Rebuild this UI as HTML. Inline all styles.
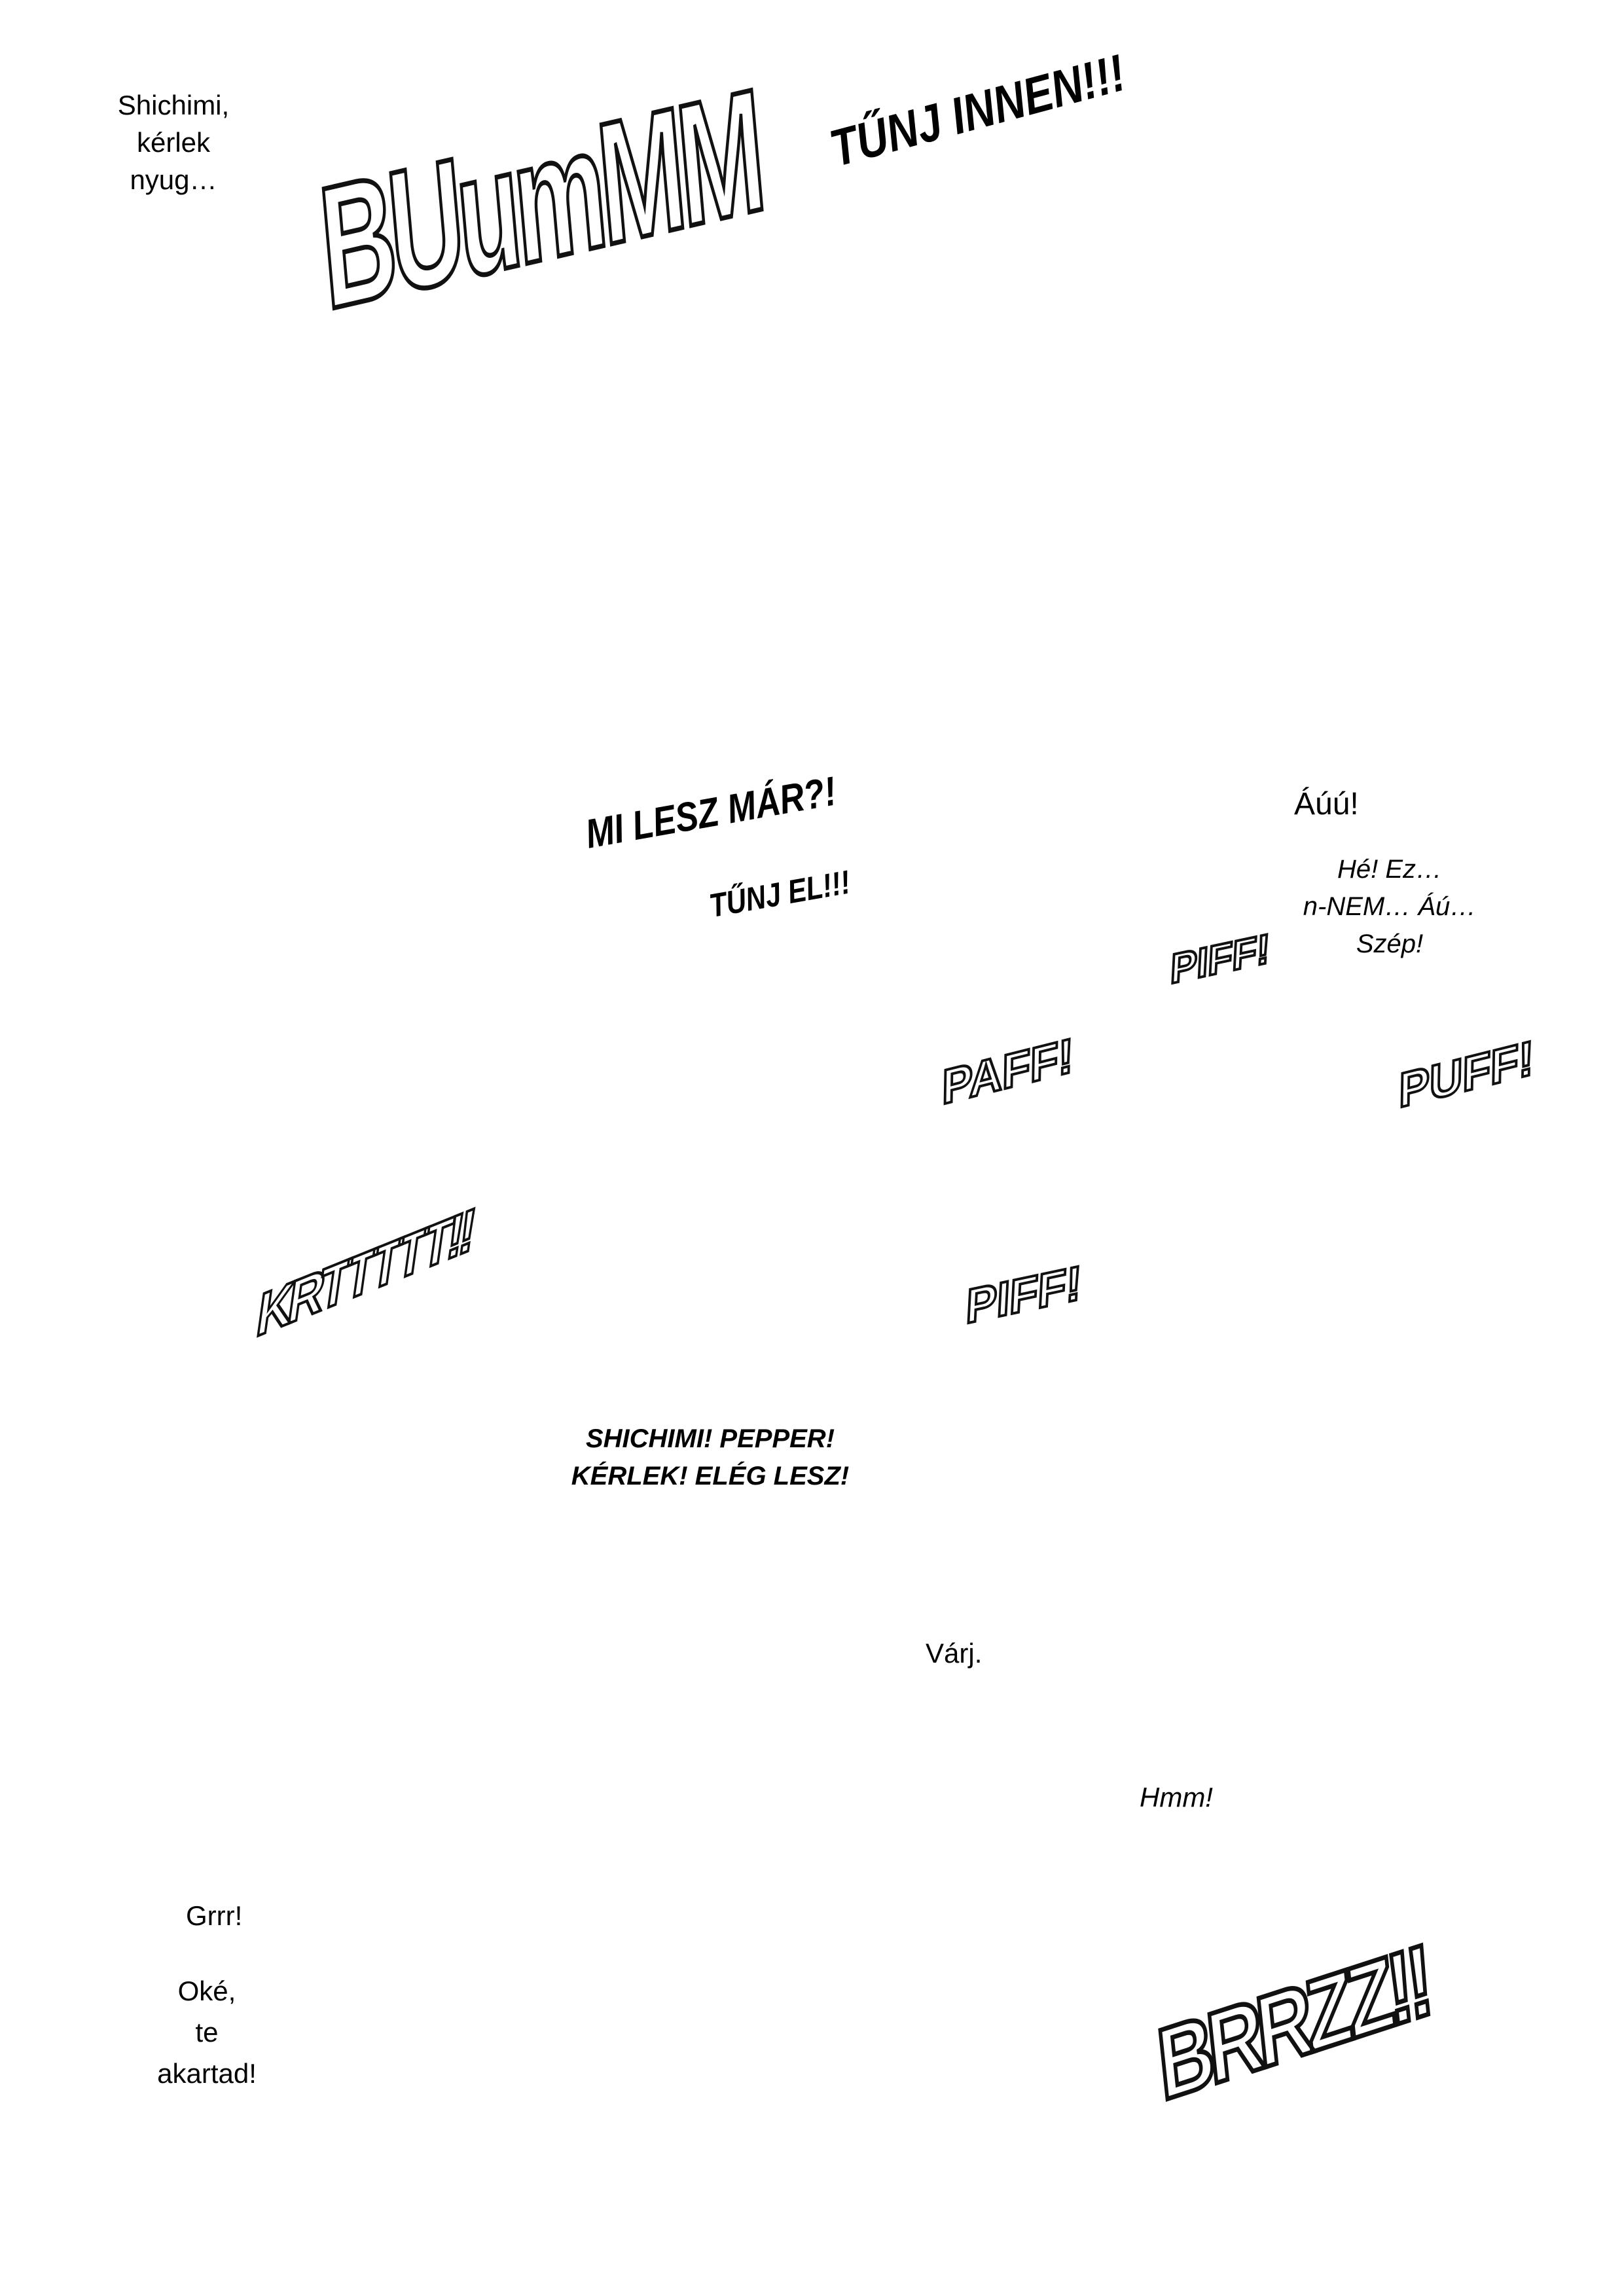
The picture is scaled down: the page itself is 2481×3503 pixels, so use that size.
<!DOCTYPE html>
<html><head><meta charset="utf-8"><style>
html,body{margin:0;padding:0;background:#fff;}
body{width:2481px;height:3503px;position:relative;overflow:hidden;font-family:"Liberation Sans",sans-serif;color:#000;}
.t{position:absolute;white-space:nowrap;line-height:1;}
.c{text-align:center;}
.sfx{position:absolute;white-space:nowrap;line-height:1;font-weight:bold;color:#fff;-webkit-text-stroke:5px #111;font-family:"Liberation Sans",sans-serif;}
.bi{font-weight:bold;font-style:italic;}
</style></head><body>

<div class="t c" style="left:155px;top:132px;width:220px;font-size:42px;line-height:57px;">Shichimi,<br>kérlek<br>nyug…</div>

<div class="sfx" style="left:480px;top:250px;font-size:250px;letter-spacing:-14px;transform:rotate(-13deg) skewX(-8deg) scaleX(0.64) scaleY(1.05);transform-origin:left top;-webkit-text-stroke:7px #111;">BUumMM</div>

<div class="t bi" style="left:1260px;top:190px;font-size:66px;transform:rotate(-15deg) scaleY(1.2);transform-origin:left top;">TŰNJ INNEN!!!</div>

<div class="t bi" style="left:890px;top:1245px;font-size:52px;transform:rotate(-10deg) scaleY(1.2);transform-origin:left top;">MI LESZ MÁR?!</div>
<div class="t bi" style="left:1080px;top:1360px;font-size:42px;transform:rotate(-10deg) scaleY(1.2);transform-origin:left top;">TŰNJ EL!!!</div>

<div class="t" style="left:1977px;top:1205px;font-size:48px;">Áúú!</div>
<div class="t c" style="left:1938px;top:1300px;width:370px;font-size:40px;line-height:57px;font-style:italic;">Hé! Ez…<br>n-NEM… Áú…<br>Szép!</div>

<div class="sfx" style="left:1790px;top:1450px;font-size:62px;transform:rotate(-12deg) skewX(-15deg);transform-origin:left top;-webkit-text-stroke:4px #111;">PIFF!</div>
<div class="sfx" style="left:1440px;top:1625px;font-size:72px;transform:rotate(-14deg) skewX(-15deg);transform-origin:left top;-webkit-text-stroke:4px #111;">PAFF!</div>
<div class="sfx" style="left:2138px;top:1630px;font-size:72px;transform:rotate(-14deg) skewX(-15deg);transform-origin:left top;-webkit-text-stroke:4px #111;">PUFF!</div>
<div class="sfx" style="left:400px;top:1965px;font-size:82px;letter-spacing:-8px;transform:rotate(-22deg) skewX(-30deg);transform-origin:left top;-webkit-text-stroke:4px #111;">KRTTTTT!!</div>
<div class="sfx" style="left:1478px;top:1960px;font-size:72px;transform:rotate(-12deg) skewX(-15deg);transform-origin:left top;-webkit-text-stroke:4px #111;">PIFF!</div>

<div class="t c bi" style="left:810px;top:2170px;width:550px;font-size:40px;line-height:57px;">SHICHIMI! PEPPER!<br>KÉRLEK! ELÉG LESZ!</div>

<div class="t" style="left:1414px;top:2505px;font-size:42px;">Várj.</div>
<div class="t" style="left:1741px;top:2725px;font-size:42px;font-style:italic;">Hmm!</div>
<div class="t" style="left:284px;top:2906px;font-size:42px;">Grrr!</div>
<div class="t c" style="left:196px;top:3010px;width:240px;font-size:42px;line-height:63px;">Oké,<br>te<br>akartad!</div>

<div class="sfx" style="left:1762px;top:3080px;font-size:150px;letter-spacing:-12px;transform:rotate(-18deg) skewX(-12deg) scaleX(0.82);transform-origin:left top;-webkit-text-stroke:7px #111;">BRRZZ!!</div>

</body></html>
